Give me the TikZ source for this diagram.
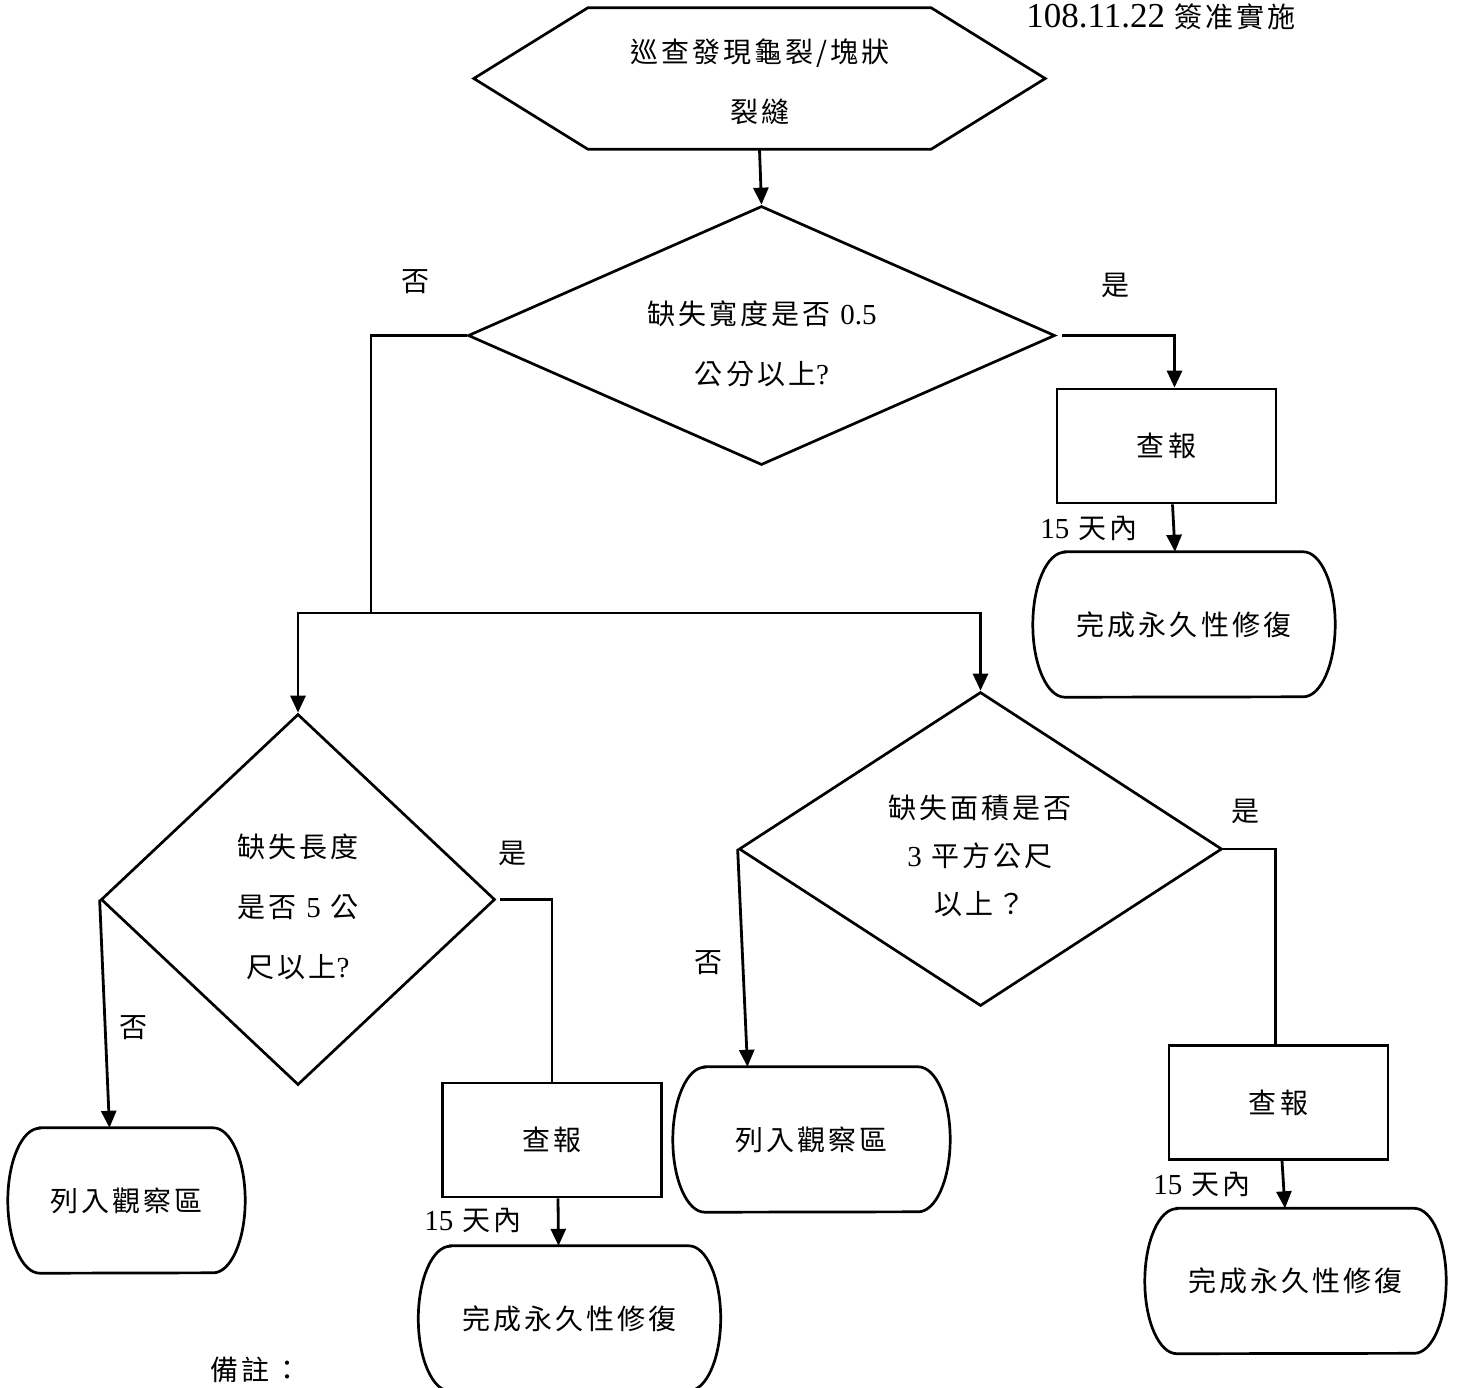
\documentclass[tikz,border=0pt]{standalone}
\usepackage{fontspec}
\setmainfont{Noto Sans CJK TC}[LetterSpace=11]
\newfontfamily\latfont{Liberation Serif}
\usetikzlibrary{arrows.meta,shapes.geometric}
\newcommand\lnum[1]{{\latfont\fontsize{29}{29}\selectfont #1}}
\newcommand\datenum[1]{{\latfont\fontsize{35}{35}\selectfont #1}}
\newcommand\termoutline[1]{\draw[shp] ([xshift=32pt]#1.north west) -- ([xshift=-32pt]#1.north east) arc[start angle=90,end angle=-90,x radius=32pt,y radius=72.5pt] -- ([xshift=32pt]#1.south west) arc[start angle=270,end angle=90,x radius=32pt,y radius=72.5pt] -- cycle;}
\newcommand\hexoutline[1]{\draw[shp] (#1.west) -- ([xshift=114pt]#1.north west) -- ([xshift=-114pt]#1.north east) -- (#1.east) -- ([xshift=-114pt]#1.south east) -- ([xshift=114pt]#1.south west) -- cycle;}
\begin{document}
\begin{tikzpicture}[x=1pt,y=-1pt,
  shp/.style={line width=2.7pt,line join=miter},
  txt/.style={inner sep=0pt,align=center,font=\fontsize{28}{60}\selectfont},
  boxnode/.style={draw,shp,rectangle,inner sep=0pt,minimum width=219pt,minimum height=114pt,font=\fontsize{28}{60}\selectfont},
  termnode/.style={rectangle,inner sep=0pt,minimum height=145pt,font=\fontsize{28}{60}\selectfont},
  diam/.style={draw,shp,diamond,inner sep=0pt},
  conn/.style={line width=2.8pt},
  arr/.style={conn,-{Triangle[length=17pt,width=15pt]}}]
\useasboundingbox (0,0) rectangle (1458,1387);
\clip (0,0) rectangle (1458,1387);

% top hexagon
\node[rectangle,inner sep=0pt,minimum width=571pt,minimum height=141pt,txt] (hex) at (759.5,78.5) {};
\hexoutline{hex}
\node[txt] (hext) at (760,82) {巡查發現龜裂/塊狀\\裂縫};

% date
\node[txt,anchor=center] (date) at (1161,17) {\datenum{108.11.22} 簽准實施};

% first decision
\node[diam,minimum width=587pt,minimum height=259pt] (d1) at (761.5,335.5) {};
\node[txt] (d1t) at (762,344) {缺失寬度是否 \lnum{0.5}\\公分以上\lnum{?}};

% right branch of first decision
\node[boxnode] (b1) at (1166.5,446) {查報};
\node[termnode,minimum width=302pt] (t1) at (1184,624.5) {完成永久性修復};
\termoutline{t1}

% second decision (length)
\node[diam,minimum width=394pt,minimum height=371pt] (d2) at (298,899.5) {};
\node[txt] (d2t) at (298,907) {缺失長度\\是否 \lnum{5} 公\\尺以上\lnum{?}};
\node[termnode,minimum width=237pt] (t2) at (126.5,1200.5) {列入觀察區};
\termoutline{t2}
\node[boxnode] (b2) at (552,1140) {查報};
\node[termnode,minimum width=302pt] (t3) at (569.5,1318.5) {完成永久性修復};
\termoutline{t3}

% third decision (area)
\node[diam,minimum width=483pt,minimum height=314pt] (d3) at (980.5,849) {};
\node[txt,font=\fontsize{28}{48}\selectfont] (d3t) at (980,856) {缺失面積是否\\\lnum{3} 平方公尺\\以上？};
\node[termnode,minimum width=277pt] (t4) at (811.5,1139.5) {列入觀察區};
\termoutline{t4}
\node[boxnode] (b3) at (1278.5,1102.5) {查報};
\node[termnode,minimum width=301pt] (t5) at (1295.5,1281) {完成永久性修復};
\termoutline{t5}

% labels
\node[txt] (no1) at (415,282) {否};
\node[txt] (yes1) at (1115,285) {是};
\node[txt] (d15a) at (1089,528) {\lnum{15} 天內};
\node[txt] (yes2) at (512,853) {是};
\node[txt] (no2) at (133,1028) {否};
\node[txt] (d15b) at (473,1220) {\lnum{15} 天內};
\node[txt] (no3) at (708,963) {否};
\node[txt] (yes3) at (1245,811) {是};
\node[txt] (d15c) at (1202,1184) {\lnum{15} 天內};
\node[txt] (note) at (256,1370) {備註：};

% connectors
\coordinate (j1) at (371,613);
\draw[arr] (hex.south) -- (d1.north);
\draw[conn] (d1.west) -| (j1);
\draw[arr] (j1) -| (d2.north);
\draw[arr] (j1) -| (d3.north);
\draw[arr,shorten <=6pt] (d1.east) -| ([xshift=8pt]b1.north);
\draw[arr] ([xshift=6pt]b1.south) -- ([xshift=-9pt]t1.north);
\draw[arr] (d2.west) -- ([xshift=-17pt]t2.north);
\draw[conn,shorten <=4pt] (d2.east) -| (b2.north);
\draw[arr] ([xshift=6pt]b2.south) -- ([xshift=-11pt]t3.north);
\draw[arr] (d3.west) -- ([xshift=-64pt]t4.north);
\draw[conn] (d3.east) -| ([xshift=-3pt]b3.north);
\draw[arr] ([xshift=3.5pt]b3.south) -- ([xshift=-10.5pt]t5.north);
\end{tikzpicture}
\end{document}
